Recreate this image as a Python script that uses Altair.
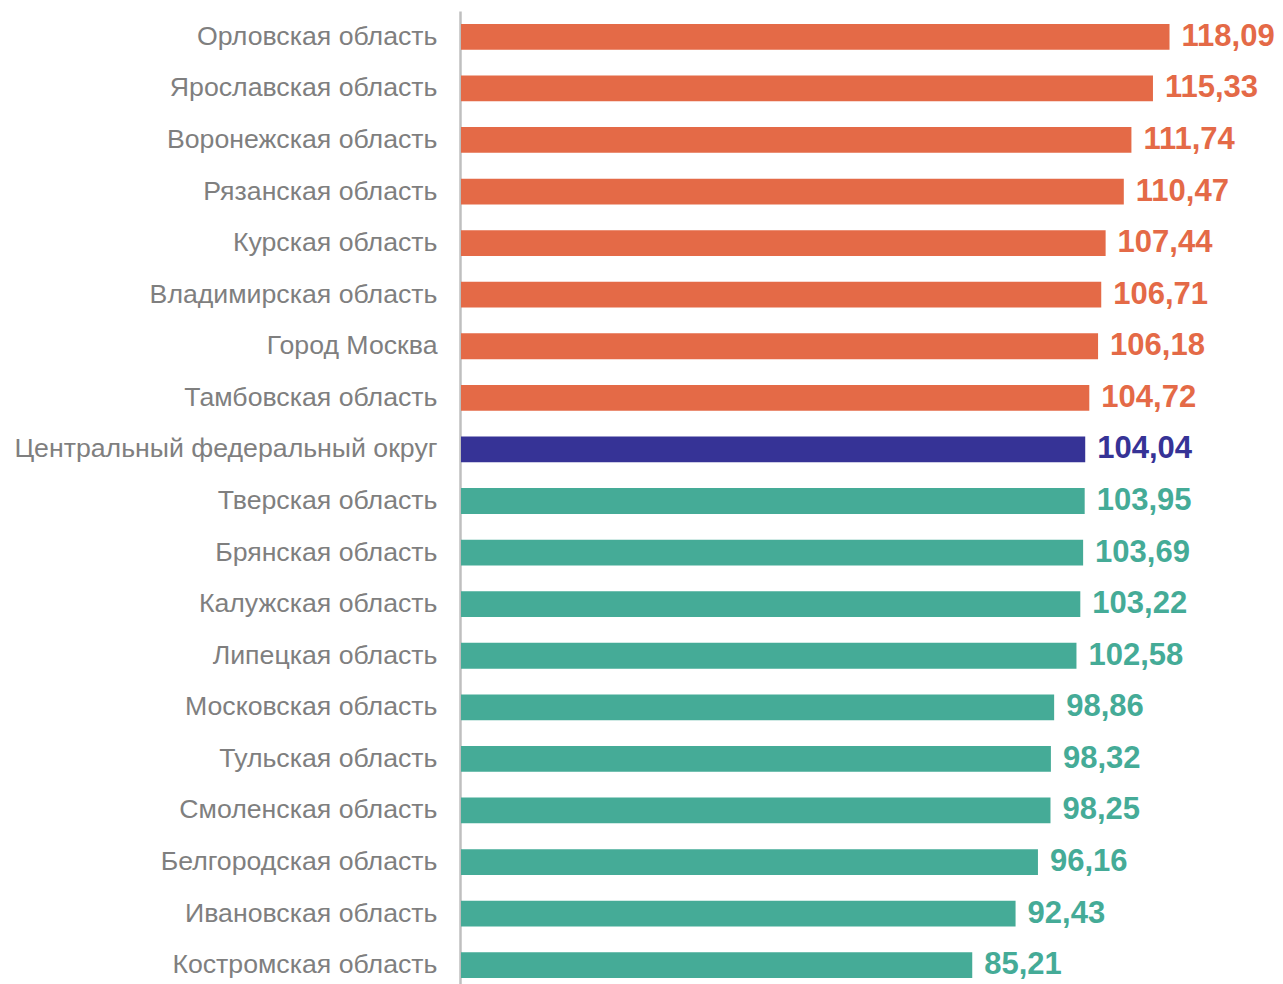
import altair as alt
import pandas as pd

regions = [
    "Орловская область", "Ярославская область", "Воронежская область",
    "Рязанская область", "Курская область", "Владимирская область",
    "Город Москва", "Тамбовская область", "Центральный федеральный округ",
    "Тверская область", "Брянская область", "Калужская область",
    "Липецкая область", "Московская область", "Тульская область",
    "Смоленская область", "Белгородская область", "Ивановская область",
    "Костромская область",
]
values = [118.09, 115.33, 111.74, 110.47, 107.44, 106.71, 106.18, 104.72,
          104.04, 103.95, 103.69, 103.22, 102.58, 98.86, 98.32, 98.25,
          96.16, 92.43, 85.21]
groups = ["above"] * 8 + ["district"] + ["below"] * 10

df = pd.DataFrame({"region": regions, "value": values, "group": groups})
df["label"] = [f"{v:.2f}".replace(".", ",") for v in values]

color_scale = alt.Scale(domain=["above", "district", "below"],
                        range=["#E46A47", "#363396", "#45AB97"])

y_scale = alt.Scale(paddingInner=0.5, paddingOuter=0.25)
y_enc = alt.Y("region:N", sort=regions, title=None, scale=y_scale,
              axis=alt.Axis(ticks=False, labelPadding=23, labelFontSize=26.7,
                            labelFont="Liberation Sans", labelColor="#7F7F7F",
                            labelLimit=600, domainColor="#BFBFBF",
                            domainWidth=2.5, offset=1))
x_enc = alt.X("value:Q", scale=alt.Scale(domain=[0, 135.67], nice=False),
              axis=None)

bars = alt.Chart(df).mark_bar().encode(
    y=y_enc, x=x_enc,
    color=alt.Color("group:N", scale=color_scale, legend=None),
)
text = alt.Chart(df).mark_text(
    align="left", baseline="middle", dx=12, fontSize=31,
    fontWeight="bold", font="Liberation Sans",
).encode(
    y=alt.Y("region:N", sort=regions, scale=y_scale),
    x=x_enc,
    text="label:N",
    color=alt.Color("group:N", scale=color_scale, legend=None),
)

chart = (bars + text).properties(
    width=814, height=980,
    autosize=alt.AutoSizeParams(type="none"),
    padding={"left": 453, "top": 3, "right": 0, "bottom": 12},
).configure_view(stroke=None)

chart.save("out.html", embed_options={"renderer": "svg", "actions": False})
